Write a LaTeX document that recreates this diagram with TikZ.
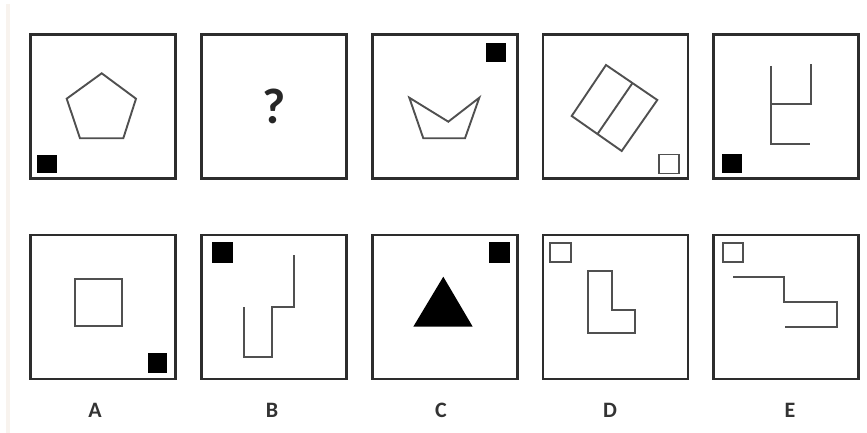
\documentclass[tikz,border=0pt]{standalone}
\usepackage{fontspec}
\setmainfont{Carlito}
\usepackage{xcolor}
\usepackage{tikz}
\usetikzlibrary{positioning}
\definecolor{framegray}{RGB}{45,45,45}
\definecolor{linegray}{RGB}{80,80,80}
\definecolor{edgetint}{RGB}{248,243,238}
\tikzset{
  panel/.style={rectangle, draw=framegray, line width=2.8pt,
                minimum width=145pt, minimum height=144pt, inner sep=0pt},
  fig/.style={draw=linegray, line width=1.9pt, line join=miter},
  blk/.style={fill=black},
  hollow/.style={draw=linegray, line width=1.9pt},
  optlabel/.style={font=\fontsize{22}{22}\selectfont\bfseries, text=black!80}
}
\begin{document}
\begin{tikzpicture}[x=1pt, y=-1pt]

  \useasboundingbox (0,0) rectangle (867,433);
  \fill[edgetint] (6,4) rectangle (10,433);

  % question row
  \node[panel] (q1) at (103,106.5) {};
  \node[panel] (q2) at (274,106.5) {};
  \node[panel] (q3) at (445,106.5) {};
  \node[panel] (q4) at (615.5,106.5) {};
  \node[panel] (q5) at (786,106.5) {};

  % answer row
  \node[panel] (pa) at (103,307) {};
  \node[panel] (pb) at (274,307) {};
  \node[panel] (pc) at (445,307) {};
  \node[panel] (pd) at (615.5,307) {};
  \node[panel] (pe) at (786,307) {};

  % labels
  \node[optlabel] (la) at (95,410) {A};
  \node[optlabel] (lb) at (272,410) {B};
  \node[optlabel] (lc) at (441,410) {C};
  \node[optlabel] (ld) at (610,410) {D};
  \node[optlabel] (le) at (790,410) {E};

  % panel 1: pentagon
  \draw[fig] (101.7,73.3) -- (136,98.7) -- (123.3,138.3) -- (80,138.3)
             -- (66.7,98.7) -- cycle;
  \fill[blk] (37.3,155) rectangle (57.3,173.3);

  % panel 2: unknown
  \node[font=\fontsize{50}{50}\selectfont\bfseries, text=black!85]
    (qm) at (q2) {?};

  % panel 3: boat
  \draw[fig] (409.3,97.7) -- (448.3,121.7) -- (479.3,97.7) -- (465,138.3)
             -- (423.3,138.3) -- cycle;
  \fill[blk] (486,43.3) rectangle (506,61.7);

  % panel 4: tilted split rectangle
  \draw[fig] (606,65) -- (657.3,100) -- (621.7,151) -- (571.7,116) -- cycle;
  \draw[fig] (632.5,83) -- (597.5,134);
  \draw[hollow] (659.2,154.5) rectangle (678.7,173.5);

  % panel 5: open strokes
  \draw[fig] (771,66) -- (771,144) -- (810,144);
  \draw[fig] (811,64.3) -- (811,104) -- (771,104);
  \fill[blk] (722.3,154) rectangle (741.7,172.7);

  % option A
  \draw[fig] (75,279.3) rectangle (121.7,326);
  \fill[blk] (147.7,352.7) rectangle (166.7,372.7);

  % option B
  \draw[fig] (294.3,255) -- (294.3,306.7) -- (271.7,306.7) -- (271.7,356.7)
             -- (244.3,356.7) -- (244.3,306.7);
  \fill[blk] (212.3,241.7) rectangle (233.3,262.7);

  % option C
  \fill[blk] (413.3,326.7) -- (443.3,276.7) -- (472.7,326.7) -- cycle;
  \fill[blk] (489.3,241.7) rectangle (510,262.7);

  % option D
  \draw[hollow] (549.8,242.8) rectangle (571.2,262);
  \draw[fig] (588.3,270.7) -- (611.7,270.7) -- (611.7,310) -- (635,310)
             -- (635,333.3) -- (588.3,333.3) -- cycle;

  % option E
  \draw[hollow] (723.2,242.8) rectangle (742.8,262);
  \draw[fig] (733.3,277.3) -- (784,277.3) -- (784,301.7) -- (837.3,301.7)
             -- (837.3,327.3) -- (785,327.3);

\end{tikzpicture}
\end{document}
